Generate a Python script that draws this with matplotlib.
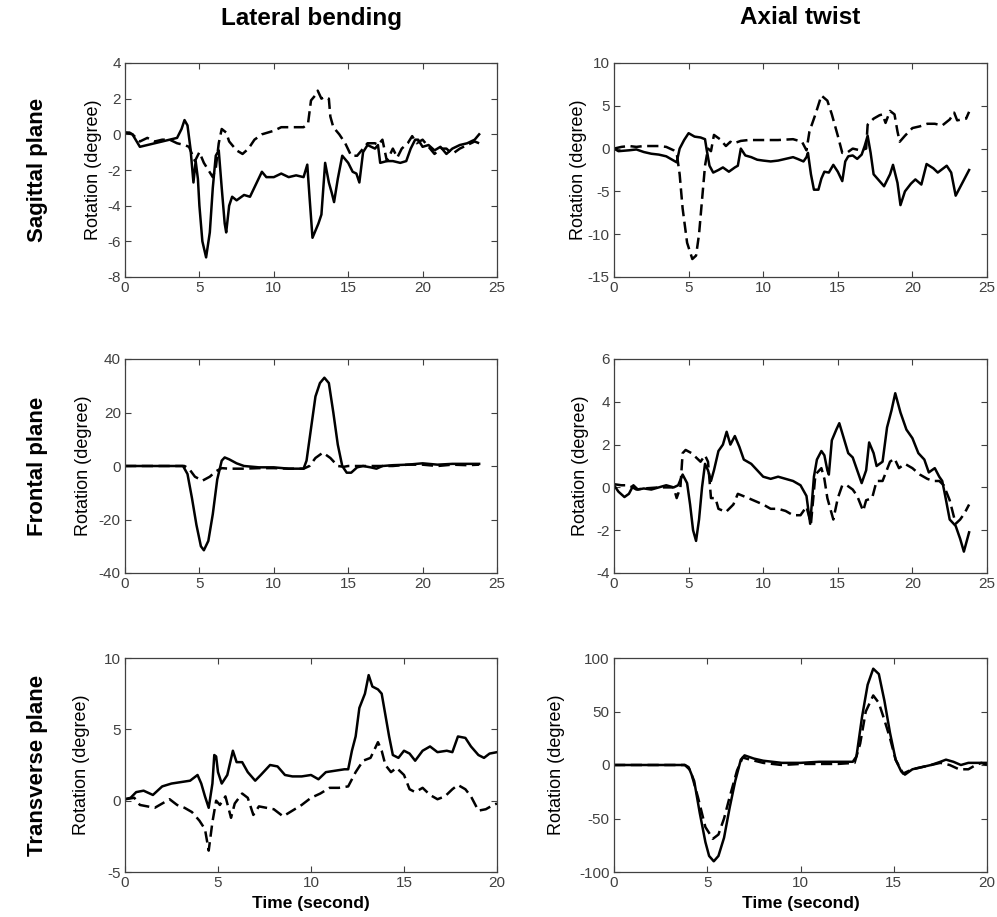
import matplotlib
matplotlib.use("Agg")
import matplotlib.pyplot as plt

plt.rcParams['font.family'] = ['Liberation Sans', 'DejaVu Sans']
plt.rcParams['axes.unicode_minus'] = False

# ---- data (time in s, rotation in degree) ----
# Sagittal plane / lateral bending
sag_lb_t_solid = [0, 0.3, 0.5, 1.0, 1.5, 2, 2.5, 3, 3.5, 3.8, 4.0, 4.2, 4.4, 4.6, 4.75, 4.9, 5.0, 5.2, 5.45,
                  5.7, 5.9, 6.1, 6.3, 6.5, 6.7, 6.8, 7.0, 7.2, 7.5, 8, 8.4, 8.8, 9.2, 9.5, 10, 10.5, 11, 11.5,
                  12, 12.25, 12.4, 12.6, 13.0, 13.2, 13.45, 13.7, 13.9, 14.05, 14.3, 14.6, 15.0, 15.3, 15.55,
                  15.75, 16.0, 16.3, 16.8, 17.0, 17.15, 17.6, 18, 18.5, 18.9, 19.2, 19.5, 19.7, 20.0, 20.4,
                  20.8, 21.2, 21.6, 22, 22.5, 23, 23.5, 23.8]
sag_lb_y_solid = [0.1, 0.1, 0, -0.7, -0.6, -0.5, -0.4, -0.3, -0.2, 0.3, 0.8, 0.5, -0.8, -2.7, -1.5, -2.5, -4,
                  -6, -6.9, -5.5, -3, -1.2, -0.9, -3, -5, -5.5, -4.0, -3.5, -3.7, -3.4, -3.5, -2.8, -2.1,
                  -2.4, -2.4, -2.2, -2.4, -2.3, -2.4, -1.7, -3.5, -5.8, -5.0, -4.5, -1.6, -2.7, -3.3, -3.8,
                  -2.5, -1.2, -1.6, -2.1, -2.2, -2.7, -1.0, -0.6, -0.8, -0.6, -1.6, -1.5, -1.5, -1.6, -1.5,
                  -0.8, -0.3, -0.3, -0.7, -0.6, -0.9, -0.7, -1.1, -0.8, -0.6, -0.5, -0.3, 0.0]
sag_lb_t_dash = [0, 0.5, 1.0, 1.5, 2, 2.5, 3, 3.5, 4.0, 4.3, 4.5, 4.7, 5.0, 5.3, 5.6, 5.9, 6.1, 6.3, 6.5, 6.8,
                 7.0, 7.5, 7.9, 8.3, 8.7, 9.2, 10, 10.5, 11, 11.5, 12.0, 12.3, 12.5, 12.8, 12.95, 13.2, 13.4,
                 13.7, 13.8, 14.0, 14.4, 14.8, 15.2, 15.6, 16.0, 16.3, 16.8, 17.0, 17.3, 17.6, 18.0, 18.3,
                 18.6, 19.0, 19.3, 19.6, 20.0, 20.4, 20.8, 21.2, 21.6, 22.0, 22.5, 23, 23.5, 23.8]
sag_lb_y_dash = [0.1, 0, -0.4, -0.2, -0.4, -0.3, -0.3, -0.5, -0.6, -0.7, -1.1, -1.5, -1.0, -1.6, -2.0, -2.4,
                 -1.9, -0.5, 0.3, 0.1, -0.4, -0.9, -1.1, -0.8, -0.3, 0.0, 0.2, 0.4, 0.4, 0.4, 0.4, 0.6, 1.9,
                 2.2, 2.45, 2.0, 2.1, 2.0, 1.0, 0.4, 0.0, -0.5, -1.2, -1.2, -0.8, -0.5, -0.5, -0.6, -0.3,
                 -1.5, -0.8, -1.3, -0.8, -0.5, -0.1, -0.5, -0.3, -0.7, -1.1, -0.8, -0.8, -1.1, -0.8, -0.6,
                 -0.4, -0.5]

# Sagittal plane / axial twist
sag_at_t_solid = [0, 0.3, 1, 1.5, 2, 2.5, 3.0, 3.5, 4.0, 4.2, 4.4, 4.7, 5.0, 5.4, 5.8, 6.1, 6.2, 6.4, 6.65,
                  7.0, 7.3, 7.7, 8.1, 8.3, 8.5, 8.8, 9.2, 9.6, 10, 10.5, 11, 11.5, 12, 12.3, 12.7, 12.9, 13.0,
                  13.2, 13.4, 13.7, 13.9, 14.1, 14.4, 14.7, 15.0, 15.3, 15.5, 15.7, 16.0, 16.3, 16.6, 16.8,
                  17.0, 17.2, 17.4, 17.8, 18.1, 18.5, 18.7, 19.0, 19.2, 19.5, 19.9, 20.2, 20.6, 20.95, 21.4,
                  21.7, 22.0, 22.3, 22.6, 22.9, 23.2, 23.5, 23.8]
sag_at_y_solid = [0, -0.3, -0.2, -0.1, -0.4, -0.6, -0.7, -0.9, -1.4, -1.6, 0.0, 1.0, 1.8, 1.4, 1.3, 1.1, 0.0,
                  -2.0, -2.8, -2.5, -2.2, -2.7, -2.2, -2.0, 0.0, -0.8, -1.0, -1.3, -1.4, -1.5, -1.4, -1.2,
                  -1.0, -1.2, -1.5, -1.0, -0.5, -3.0, -4.8, -4.8, -3.5, -2.7, -2.8, -1.9, -2.7, -3.8, -1.5,
                  -0.9, -0.8, -1.2, -0.7, 0.3, 1.5, -0.5, -3.0, -3.8, -4.4, -3.0, -1.9, -4.0, -6.6, -5.0,
                  -4.1, -3.6, -4.2, -1.8, -2.3, -2.8, -2.4, -2.0, -2.8, -5.5, -4.5, -3.5, -2.5]
sag_at_t_dash = [0, 0.5, 1, 1.5, 2, 2.5, 3, 3.5, 4.0, 4.2, 4.4, 4.6, 4.9, 5.25, 5.5, 5.7, 5.9, 6.1, 6.3, 6.5,
                 6.7, 7.1, 7.5, 7.8, 8.0, 8.5, 9, 10, 11, 12, 12.6, 12.9, 13.1, 13.5, 13.9, 14.3, 14.6, 15.0,
                 15.3, 15.6, 16.0, 16.5, 16.9, 17.0, 17.4, 17.8, 18.0, 18.2, 18.5, 18.8, 19.0, 19.15, 19.5,
                 20, 20.5, 21, 21.5, 22, 22.5, 22.8, 23.0, 23.3, 23.6, 23.8]
sag_at_y_dash = [0, 0.2, 0.3, 0.2, 0.3, 0.3, 0.3, 0.2, -0.2, -0.5, -3.0, -7.0, -11, -12.9, -12.5, -10, -6, -2,
                 0.0, -0.3, 1.6, 1.1, 0.3, 0.8, 0.6, 0.9, 1.0, 1.0, 1.0, 1.1, 0.8, -0.2, 2.0, 4.0, 6.2, 5.6,
                 4.0, 1.5, -0.5, -0.5, 0.0, -0.2, 0.0, 2.8, 3.5, 3.9, 4.0, 3.0, 4.4, 4.0, 2.0, 0.8, 1.5,
                 2.4, 2.6, 2.9, 2.9, 2.7, 3.4, 4.2, 3.3, 3.4, 3.5, 4.3]

# Frontal plane / lateral bending
fro_lb_t_solid = [0, 1, 2, 3, 3.9, 4.2, 4.5, 4.8, 5.1, 5.3, 5.6, 5.9, 6.2, 6.5, 6.7, 7.0, 7.5, 8.0, 9, 10, 11,
                  12.0, 12.2, 12.5, 12.8, 13.1, 13.4, 13.7, 14.0, 14.3, 14.6, 14.9, 15.2, 15.6, 16.0, 16.5,
                  16.9, 17.3, 18, 19, 20, 21, 22, 23, 23.8]
fro_lb_y_solid = [0, 0, 0, 0, 0, -3, -12, -22, -30, -31.5, -28, -18, -5, 2, 3.2, 2.5, 1.0, 0, -0.5, -0.5, -1,
                  -1, 2, 14, 26, 31, 33, 31, 20, 8, 0, -2.5, -2.5, -0.5, 0, -0.5, -1, 0, 0.3, 0.5, 1, 0.5,
                  0.8, 0.8, 0.8]
fro_lb_t_dash = [0, 4.0, 4.3, 4.7, 5.2, 5.7, 6.1, 6.5, 7, 8, 9, 10, 11, 12, 12.4, 12.8, 13.3, 13.8, 14.3, 14.7,
                 15, 16, 17, 18, 19, 20, 21, 22, 23, 23.8]
fro_lb_y_dash = [0, 0, -1, -4, -5.5, -4, -2, -0.8, -1, -1, -0.8, -0.8, -1, -1, 0, 3, 5, 3, 0, -0.3, 0, 0, 0,
                 0, 0.5, 0.5, 0, 0.5, 0.3, 0.5]

# Frontal plane / axial twist
fro_at_t_solid = [0, 0.3, 0.7, 1.0, 1.3, 1.6, 2, 2.5, 3, 3.5, 4, 4.3, 4.6, 4.9, 5.1, 5.3, 5.5, 5.7, 5.9, 6.1,
                  6.3, 6.5, 6.7, 7.0, 7.3, 7.55, 7.8, 8.1, 8.4, 8.7, 9.2, 9.6, 10, 10.5, 11, 11.5, 12, 12.5,
                  12.9, 13.15, 13.4, 13.6, 13.9, 14.1, 14.3, 14.4, 14.6, 14.9, 15.1, 15.4, 15.7, 16.0, 16.3,
                  16.6, 16.9, 17.1, 17.4, 17.6, 18.0, 18.3, 18.6, 18.85, 19.2, 19.6, 20.0, 20.4, 20.8, 21.1,
                  21.5, 21.8, 22.0, 22.2, 22.5, 22.9, 23.2, 23.45, 23.8]
fro_at_y_solid = [0.1, -0.2, -0.45, -0.3, 0.1, -0.1, -0.05, -0.1, 0, 0.1, 0.0, 0.1, 0.6, 0.2, -0.8, -2.0, -2.5,
                  -1.5, 0.0, 1.1, 0.8, 0.3, 0.8, 1.7, 2.0, 2.6, 2.0, 2.4, 1.9, 1.3, 1.1, 0.8, 0.5, 0.4, 0.5,
                  0.4, 0.3, 0.1, -0.4, -1.7, 0.5, 1.3, 1.7, 1.5, 0.8, 0.6, 2.2, 2.7, 3.0, 2.3, 1.6, 1.4, 0.8,
                  0.2, 0.8, 2.1, 1.6, 1.0, 1.2, 2.8, 3.6, 4.4, 3.5, 2.7, 2.3, 1.6, 1.3, 0.7, 0.9, 0.5, 0.3,
                  -0.4, -1.5, -1.8, -2.4, -3.0, -2.1]
fro_at_t_dash = [0, 0.5, 1, 1.5, 2, 3, 4, 4.2, 4.45, 4.6, 4.8, 5.2, 5.5, 5.8, 6.1, 6.3, 6.5, 6.8, 7.0, 7.5,
                 8.0, 8.3, 9, 10, 10.5, 11, 11.5, 12, 12.5, 12.9, 13.2, 13.5, 13.9, 14.1, 14.3, 14.7, 15.0,
                 15.3, 15.6, 16.0, 16.3, 16.7, 16.9, 17.3, 17.6, 18.0, 18.5, 18.8, 19.1, 19.5, 20.0, 20.5,
                 21.0, 21.4, 21.8, 22.1, 22.5, 22.9, 23.2, 23.5, 23.8]
fro_at_y_dash = [0.15, 0.1, 0.1, -0.1, -0.05, 0, 0, -0.5, 0.0, 1.6, 1.75, 1.6, 1.4, 1.2, 1.5, 1.2, -0.5, -0.5,
                 -1.0, -1.15, -0.8, -0.3, -0.5, -0.8, -1.0, -1.0, -1.1, -1.3, -1.3, -0.9, -1.7, 0.6, 0.9,
                 0.4, -0.5, -1.5, -0.5, 0.1, 0.1, -0.1, -0.4, -1.1, -0.6, -0.5, 0.3, 0.3, 1.2, 1.35, 0.9,
                 1.1, 0.9, 0.6, 0.4, 0.3, 0.3, 0.1, -0.6, -1.7, -1.5, -1.2, -0.8]

# Transverse plane / lateral bending
tra_lb_t_solid = [0, 0.3, 0.6, 1.0, 1.5, 2.0, 2.5, 3.0, 3.5, 3.9, 4.1, 4.3, 4.5, 4.7, 4.8, 4.9, 5.0, 5.2, 5.5,
                  5.8, 6.0, 6.3, 6.6, 7.0, 7.3, 7.8, 8.2, 8.6, 9.0, 9.5, 10, 10.4, 10.8, 11.3, 11.8, 12.0,
                  12.2, 12.4, 12.6, 12.9, 13.1, 13.3, 13.6, 13.8, 14.0, 14.2, 14.4, 14.7, 15.0, 15.3, 15.6,
                  16.0, 16.4, 16.8, 17.3, 17.6, 17.9, 18.3, 18.6, 19.0, 19.3, 19.6, 20.0]
tra_lb_y_solid = [0.1, 0.2, 0.6, 0.7, 0.4, 1.0, 1.2, 1.3, 1.4, 1.8, 1.2, 0.3, -0.5, 1.2, 3.2, 3.1, 2.0, 1.2,
                  1.8, 3.5, 2.7, 2.7, 2.0, 1.4, 1.8, 2.5, 2.4, 1.8, 1.7, 1.7, 1.8, 1.5, 2.0, 2.1, 2.2, 2.2,
                  3.5, 4.5, 6.5, 7.5, 8.8, 8.0, 7.8, 7.5, 6.0, 4.5, 3.2, 3.0, 3.5, 3.3, 2.8, 3.5, 3.8, 3.4,
                  3.5, 3.4, 4.5, 4.4, 3.8, 3.2, 3.0, 3.3, 3.4]
tra_lb_t_dash = [0, 0.5, 0.8, 1.2, 1.6, 2.0, 2.4, 2.8, 3.2, 3.6, 4.0, 4.3, 4.5, 4.7, 4.9, 5.1, 5.4, 5.7, 5.9,
                 6.3, 6.6, 6.9, 7.2, 7.6, 8.0, 8.5, 9.0, 9.5, 10, 10.5, 11, 11.5, 12.0, 12.4, 12.8, 13.2,
                 13.6, 13.8, 14.0, 14.3, 14.6, 15.0, 15.3, 15.6, 16.0, 16.4, 16.8, 17.2, 17.6, 17.9, 18.3,
                 18.6, 19.0, 19.4, 19.8, 20.0]
tra_lb_y_dash = [0.1, 0.2, -0.3, -0.4, -0.5, -0.2, 0.1, -0.3, -0.5, -0.8, -1.4, -2.0, -3.5, -1.5, 0.0, -0.3,
                 0.3, -1.2, -0.2, 0.5, 0.2, -1.0, -0.4, -0.5, -0.6, -1.1, -0.7, -0.3, 0.2, 0.5, 0.9, 0.9,
                 1.0, 2.0, 2.8, 3.0, 4.1, 3.5, 2.5, 2.0, 2.3, 1.8, 0.8, 0.6, 0.9, 0.4, 0.1, 0.3, 0.8, 1.1,
                 0.8, 0.3, -0.7, -0.6, -0.3, -0.2]

# Transverse plane / axial twist
tra_at_t_solid = [0, 1, 2, 3, 3.8, 4.0, 4.3, 4.6, 4.9, 5.1, 5.35, 5.6, 5.9, 6.2, 6.5, 6.8, 7.0, 7.5, 8, 9, 10,
                  11, 12, 12.8, 13.0, 13.3, 13.6, 13.9, 14.2, 14.5, 14.8, 15.1, 15.4, 15.6, 16.0, 16.5, 17,
                  17.5, 17.8, 18.2, 18.6, 19, 19.5, 20]
tra_at_y_solid = [0, 0, 0, 0, 0, -2, -15, -45, -72, -85, -90, -85, -68, -40, -15, 5, 9, 6, 4, 2, 2, 3, 3, 3, 8,
                  45, 75, 90, 85, 60, 30, 5, -6, -9, -4, -2, 0, 3, 5, 3, 0, 2, 2, 2]
tra_at_t_dash = [0, 3.8, 4.1, 4.5, 4.9, 5.3, 5.6, 5.9, 6.2, 6.6, 6.9, 7.3, 8, 9, 10, 11, 12, 12.9, 13.2, 13.5,
                 13.9, 14.2, 14.5, 14.8, 15.1, 15.5, 16, 16.5, 17, 17.5, 18, 18.5, 19, 19.4, 19.7, 20]
tra_at_y_dash = [0, 0, -5, -30, -58, -69, -65, -50, -30, -5, 7, 5, 2, 0, 1, 1, 1, 2, 20, 50, 65, 58, 42, 25,
                 5, -8, -4, -2, 0, 2, 0, -4, -4, 0, 2, 0]

col_titles = ["Lateral bending", "Axial twist"]
row_titles = ["Sagittal plane", "Frontal plane", "Transverse plane"]
panels = [
    [(sag_lb_t_solid, sag_lb_y_solid, sag_lb_t_dash, sag_lb_y_dash, (0, 25), (-8, 4), [-8, -6, -4, -2, 0, 2, 4]),
     (sag_at_t_solid, sag_at_y_solid, sag_at_t_dash, sag_at_y_dash, (0, 25), (-15, 10), [-15, -10, -5, 0, 5, 10])],
    [(fro_lb_t_solid, fro_lb_y_solid, fro_lb_t_dash, fro_lb_y_dash, (0, 25), (-40, 40), [-40, -20, 0, 20, 40]),
     (fro_at_t_solid, fro_at_y_solid, fro_at_t_dash, fro_at_y_dash, (0, 25), (-4, 6), [-4, -2, 0, 2, 4, 6])],
    [(tra_lb_t_solid, tra_lb_y_solid, tra_lb_t_dash, tra_lb_y_dash, (0, 20), (-5, 10), [-5, 0, 5, 10]),
     (tra_at_t_solid, tra_at_y_solid, tra_at_t_dash, tra_at_y_dash, (0, 20), (-100, 100), [-100, -50, 0, 50, 100])],
]

W, H = 997, 917
fig = plt.figure(figsize=(W / 100, H / 100), dpi=100)

col_left = [125, 614]
col_width = [372, 373]
row_bottom = [277, 573, 872]
row_height = 214
# right edge of the rotated y label, in axes fraction
ylabel_x = [[-0.062, -0.072], [-0.089, -0.067], [-0.094, -0.131]]

axis_grey = "#404040"
for r in range(3):
    for c in range(2):
        ts, ys, td, yd, xlim, ylim, yticks = panels[r][c]
        ax = fig.add_axes([col_left[c] / W, 1 - row_bottom[r] / H, col_width[c] / W, row_height / H])
        ax.plot(ts, ys, color="black", lw=1.8, ls="-")
        ax.plot(td, yd, color="black", lw=1.8, ls=(0, (4.5, 2.2)))
        ax.set_xlim(*xlim)
        ax.set_ylim(*ylim)
        ax.set_xticks(range(xlim[0], xlim[1] + 1, 5))
        ax.set_yticks(yticks)
        ax.tick_params(direction="in", length=4, width=0.8, top=True, right=True,
                       labelsize=11, colors=axis_grey, pad=3)
        for s in ax.spines.values():
            s.set_color(axis_grey)
            s.set_linewidth(0.9)
        ax.set_ylabel("Rotation (degree)", fontsize=13, color="black")
        ax.yaxis.set_label_coords(ylabel_x[r][c], 0.5)
        if r == 2:
            ax.set_xlabel("Time (second)", fontsize=12.5, fontweight="bold", color="black")
            ax.xaxis.set_label_coords(0.5, -0.11)
        if r == 0:
            ax.set_title(col_titles[c], fontsize=17.5, fontweight="bold", pad=0,
                         y=(63 - 18) / row_height + 1.0, va="center")

for r, name in enumerate(row_titles):
    yc = (row_bottom[r] - row_height / 2)
    fig.text(38 / W, 1 - yc / H, name, rotation=90, fontsize=16, fontweight="bold",
             ha="center", va="center")

fig.savefig("out.png", dpi=100)
